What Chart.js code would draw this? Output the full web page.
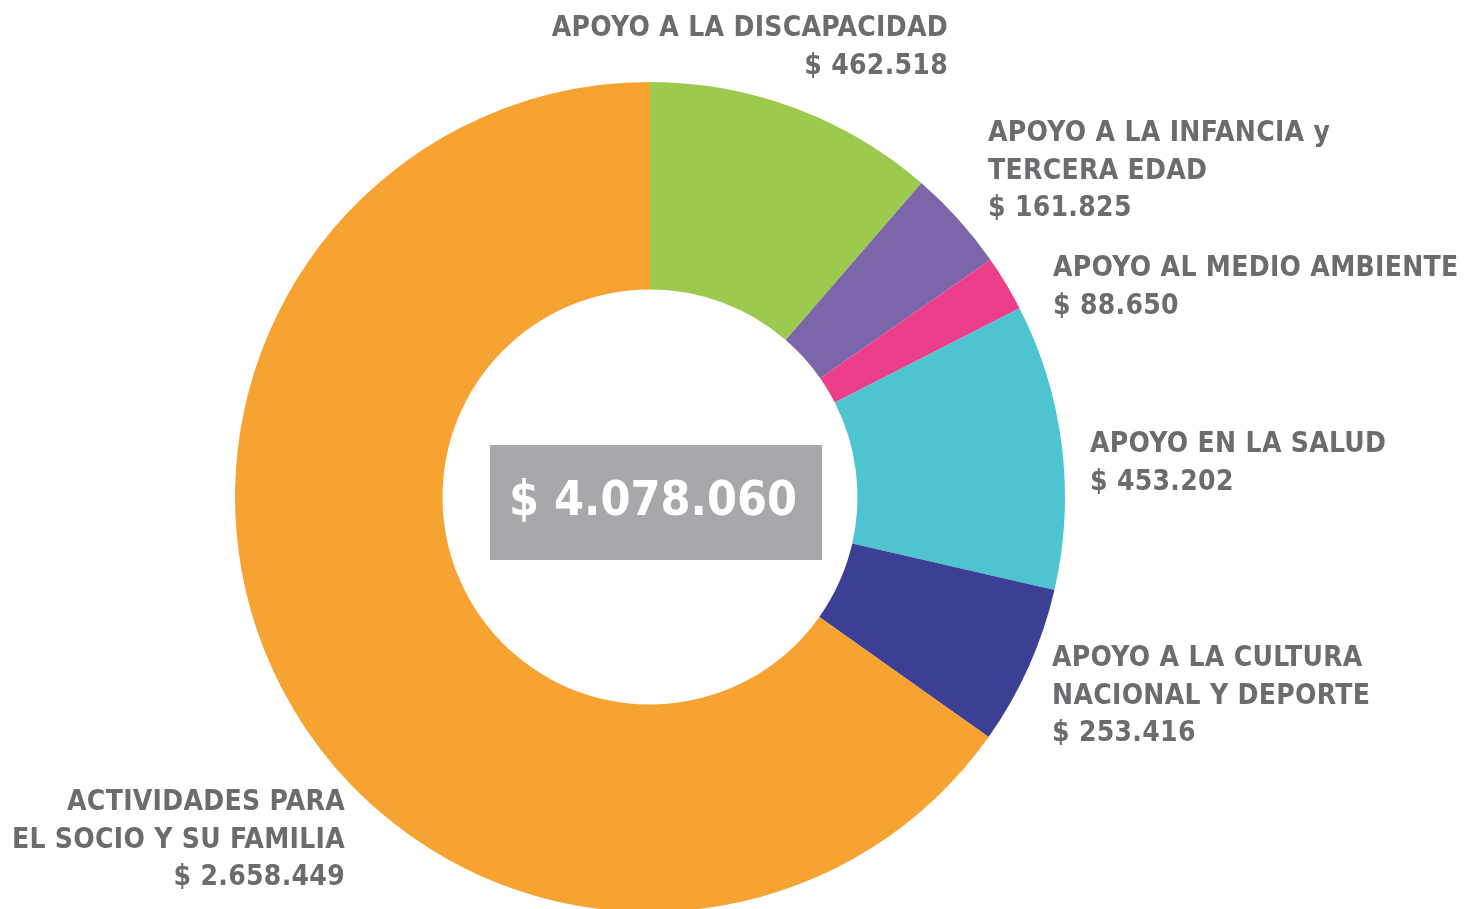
<!DOCTYPE html>
<html>
<head>
<meta charset="utf-8">
<script src="https://cdn.jsdelivr.net/npm/chart.js@4/dist/chart.umd.min.js"></script>
<style>
  html, body { margin: 0; padding: 0; background: #fff; overflow: hidden; }
  #wrap { width: 1480px; height: 915px; position: relative; }
</style>
</head>
<body>
<div id="wrap"><canvas id="grafico"></canvas></div>
<script>
// datos del grafico
var categorias = [
    ["APOYO A LA DISCAPACIDAD"],
    ["APOYO A LA INFANCIA y", "TERCERA EDAD"],
    ["APOYO AL MEDIO AMBIENTE"],
    ["APOYO EN LA SALUD"],
    ["APOYO A LA CULTURA", "NACIONAL Y DEPORTE"],
    ["ACTIVIDADES PARA", "EL SOCIO Y SU FAMILIA"]
];
var montos = [462518, 161825, 88650, 453202, 253416, 2658449];
var colores = ["#9dca4e", "#7b66aa", "#ec3f8b", "#4ec4d0", "#3c4095", "#f7a332"];

// donde va cada rotulo (x, y de la primera linea, alineacion)
var rotulos = [
    { x: 948,  y: 36,  align: "right" },
    { x: 988,  y: 141, align: "left" },
    { x: 1053, y: 276, align: "left" },
    { x: 1090, y: 452, align: "left" },
    { x: 1052, y: 666, align: "left" },
    { x: 345,  y: 810, align: "right" }
];

function formato(n){
    return "$ " + String(n).replace(/\B(?=(\d{3})+(?!\d))/g, ".");
}

var total = montos.reduce(function(a, b){ return a + b; }, 0);

var pluginTextos = {
    id: "textos",
    afterDraw: function(chart){
        var ctx = chart.ctx;
        ctx.save();
        // rotulos de cada categoria
        ctx.fillStyle = "#6b6c6f";
        ctx.font = "bold 28px 'DejaVu Sans Condensed'";
        ctx.letterSpacing = "0.3px";
        ctx.textBaseline = "alphabetic";
        for (var i in categorias){
            var r = rotulos[i];
            var lineas = categorias[i].concat([formato(montos[i])]);
            ctx.textAlign = r.align;
            for (var j = 0; j < lineas.length; j++){
                ctx.fillText(lineas[j], r.x, r.y + j * 37.5);
            }
        }
        // total en el centro
        ctx.letterSpacing = "0px";
        ctx.fillStyle = "#a7a8ab";
        ctx.fillRect(490, 445, 332, 115);
        ctx.fillStyle = "#ffffff";
        ctx.font = "bold 48px 'DejaVu Sans Condensed'";
        ctx.textAlign = "center";
        ctx.textBaseline = "middle";
        ctx.fillText(formato(total), 653, 503);
        ctx.restore();
    }
};

var ctx = document.getElementById("grafico").getContext("2d");
var chart = new Chart(ctx, {
    type: "doughnut",
    data: {
        labels: categorias.map(function(c){ return c.join(" "); }),
        datasets: [{
            data: montos,
            backgroundColor: colores,
            borderWidth: 0
        }]
    },
    options: {
        responsive: true,
        maintainAspectRatio: false,
        animation: false,
        cutout: "50%",
        layout: { padding: { top: 82, bottom: 3, left: 235, right: 415 } },
        plugins: {
            legend: { display: false },
            tooltip: { enabled: false }
        }
    },
    plugins: [pluginTextos]
});
</script>
</body>
</html>
